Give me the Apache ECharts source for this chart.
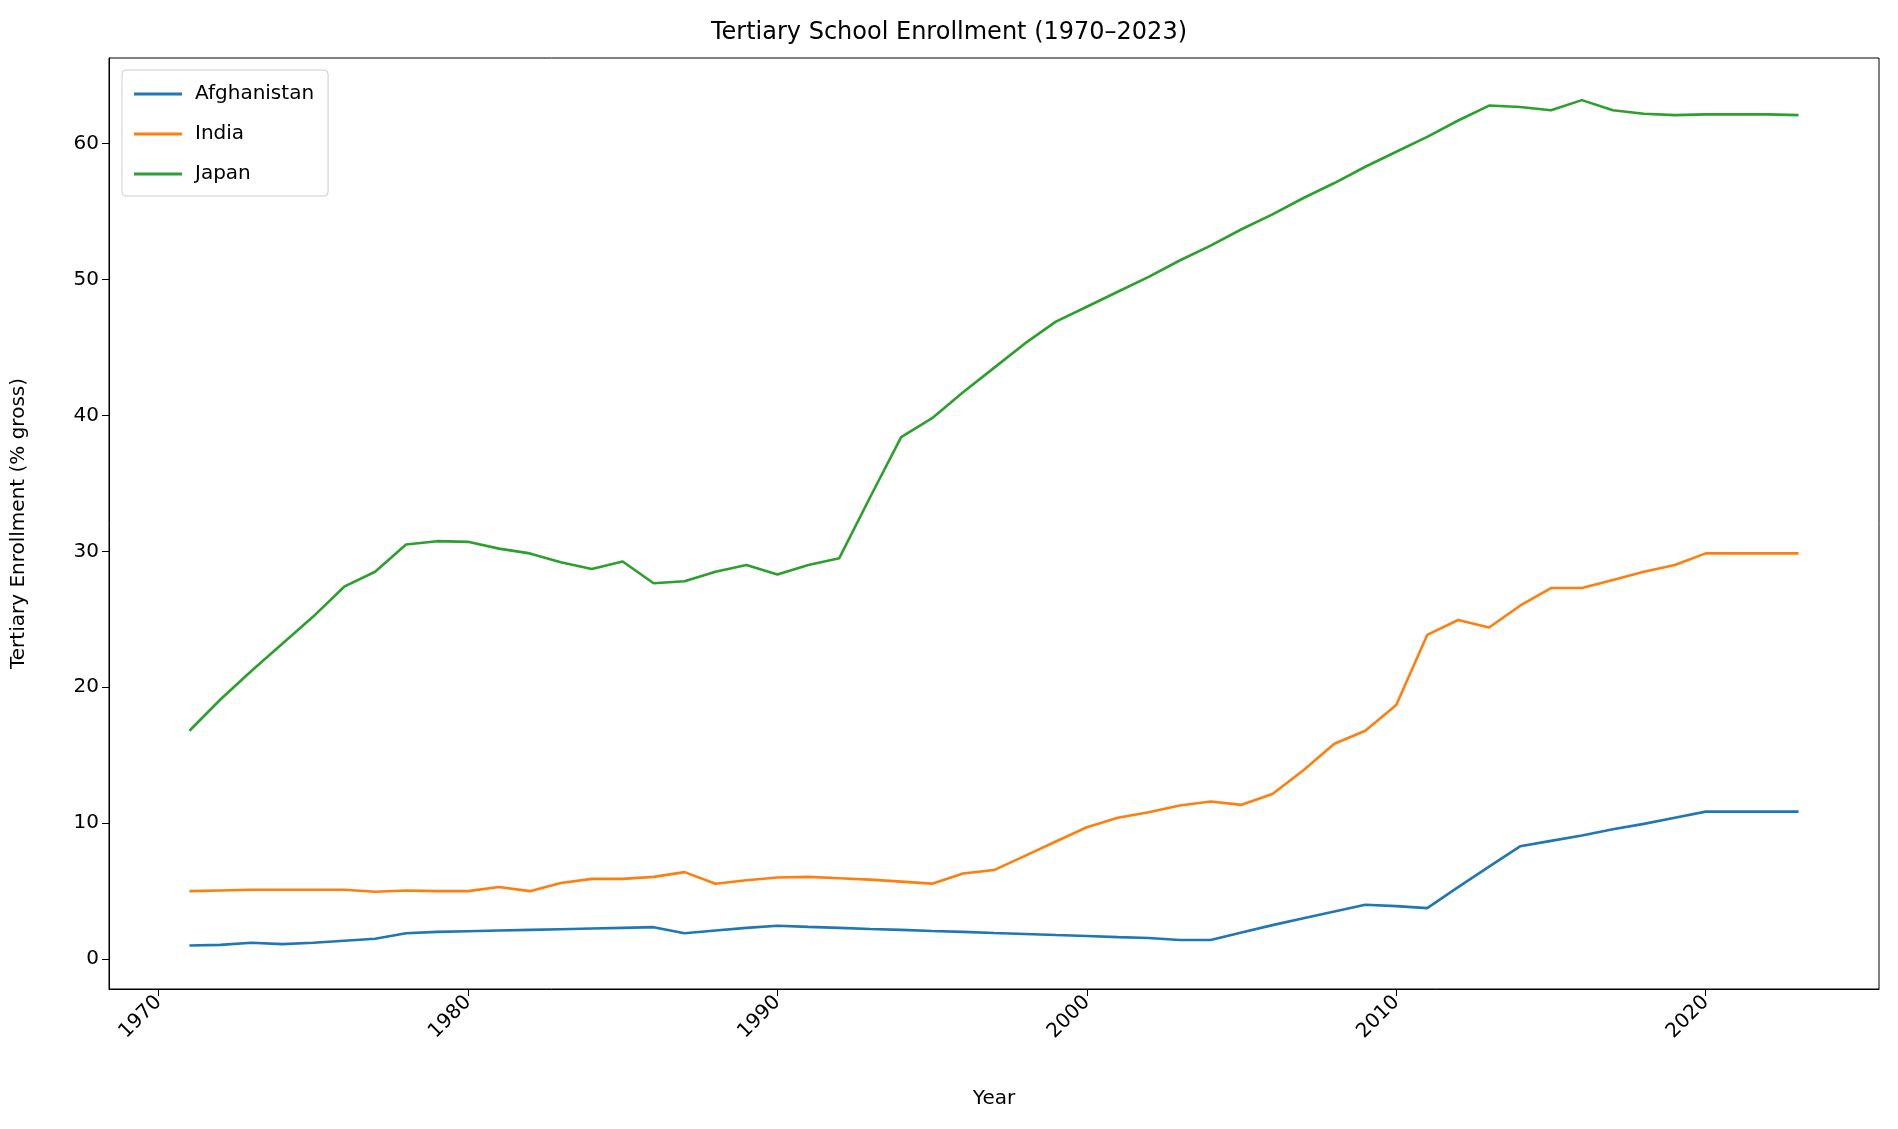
<!DOCTYPE html>
<html>
<head>
<meta charset="utf-8">
<script src="https://cdn.jsdelivr.net/npm/echarts@6/dist/echarts.min.js"></script>
<style>html,body{margin:0;background:#fff}#chart{width:1898px;height:1129px}</style>
</head>
<body>
<div id="chart"></div>
<script>
// 年份
const years = []
for (let y = 1971; y <= 2023; y++) years.push(y)

const afghanistan = [1.0, 1.05, 1.2, 1.1, 1.2, 1.35, 1.5, 1.9, 2.0, 2.05, 2.1, 2.15, 2.2, 2.25, 2.3, 2.35, 1.9, 2.1, 2.3, 2.45,
  2.37, 2.3, 2.22, 2.15, 2.07, 2.0, 1.92, 1.85, 1.77, 1.7, 1.62, 1.55, 1.4, 1.4, 1.95, 2.5, 3.0, 3.5, 4.0, 3.9, 3.75,
  5.3, 6.8, 8.3, 8.7, 9.1, 9.55, 9.95, 10.4, 10.85, 10.85, 10.85, 10.85]
const india = [5.0, 5.05, 5.1, 5.1, 5.1, 5.1, 4.95, 5.05, 5.0, 5.0, 5.3, 5.0, 5.6, 5.9, 5.9, 6.05, 6.4, 5.55, 5.8, 6.0,
  6.05, 5.95, 5.85, 5.7, 5.55, 6.3, 6.55, 7.6, 8.65, 9.7, 10.4, 10.8, 11.3, 11.6, 11.35, 12.15, 13.9, 15.85, 16.8, 18.7,
  23.85, 24.95, 24.4, 26.0, 27.3, 27.3, 27.9, 28.5, 29.0, 29.85, 29.85, 29.85, 29.85]
const japan = [16.8, 19.1, 21.2, 23.2, 25.2, 27.4, 28.5, 30.5, 30.75, 30.7, 30.2, 29.85, 29.2, 28.7, 29.25, 27.65, 27.8, 28.5, 29.0, 28.3,
  29.0, 29.5, 34.0, 38.4, 39.8, 41.7, 43.5, 45.3, 46.9, 48.0, 49.1, 50.2, 51.4, 52.5, 53.7, 54.8, 56.0, 57.1, 58.3, 59.4,
  60.5, 61.7, 62.8, 62.7, 62.45, 63.2, 62.45, 62.2, 62.1, 62.15, 62.15, 62.15, 62.1]

const names = ['Afghanistan', 'India', 'Japan']
const colors = ['#1f77b4', '#ff7f0e', '#2ca02c']
const values = [afghanistan, india, japan]
const xTicks = [1970, 1980, 1990, 2000, 2010, 2020]
const yTicks = [0, 10, 20, 30, 40, 50, 60]

const chart = echarts.init(document.getElementById('chart'))
const font = 'DejaVu Sans'
chart.setOption({
  animation: false,
  textStyle: { fontFamily: font },
  title: { text: 'Tertiary School Enrollment (1970–2023)', left: 'center', top: 16,
    textStyle: { fontFamily: font, fontSize: 24, fontWeight: 'normal', color: '#000' } },
  legend: {
    orient: 'vertical', left: 122, top: 70, itemWidth: 48, itemHeight: 3, itemGap: 20,
    padding: [14, 14, 12, 12], borderColor: '#ccc', borderWidth: 1, borderRadius: 4,
    icon: 'rect', textStyle: { fontSize: 20, color: '#000', fontFamily: font, padding: [0, 0, 0, 8] },
    data: names
  },
  grid: { left: 109, right: 19, top: 58, bottom: 140 },
  xAxis: {
    type: 'value', min: 1968.4, max: 2025.6,
    name: 'Year', nameLocation: 'middle', nameGap: 100,
    nameTextStyle: { fontSize: 20, color: '#000' },
    axisLine: { onZero: false, lineStyle: { color: '#000' } },
    axisTick: { show: true, length: 7, lineStyle: { color: '#000' }, customValues: xTicks },
    axisLabel: { rotate: 45, fontSize: 20, color: '#000', margin: 10,
      customValues: xTicks, formatter: v => String(v) },
    splitLine: { show: false }
  },
  yAxis: {
    type: 'value', min: -2.2, max: 66.3,
    name: 'Tertiary Enrollment (% gross)', nameLocation: 'middle', nameGap: 80,
    nameTextStyle: { fontSize: 20, color: '#000' },
    axisLine: { show: true, lineStyle: { color: '#000' } },
    axisTick: { show: true, length: 7, lineStyle: { color: '#000' }, customValues: yTicks },
    axisLabel: { fontSize: 20, color: '#000', margin: 10, customValues: yTicks },
    splitLine: { show: false }
  },
  series: names.map((n, i) => ({
    name: n, type: 'line', showSymbol: false, symbol: 'none',
    lineStyle: { width: 2.6, color: colors[i] }, itemStyle: { color: colors[i] },
    data: years.map((y, j) => [y, values[i][j]])
  })),
  // 外框
  graphic: [{ type: 'rect', shape: { x: 109, y: 58, width: 1898 - 109 - 19, height: 1129 - 58 - 140 },
    style: { fill: 'none', stroke: '#000', lineWidth: 1 }, silent: true }]
})
</script>
</body>
</html>
